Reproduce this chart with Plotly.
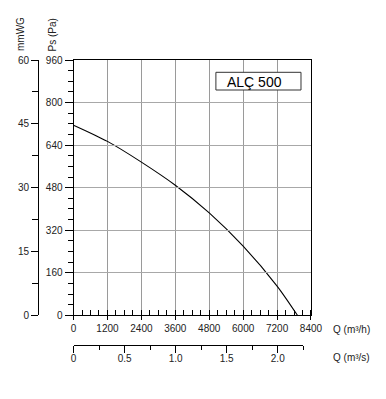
import plotly.graph_objects as go

# Data
flow_m3h = [0, 1200, 2400, 3600, 4800, 6000, 7200, 7920]
pressure_pa = [715, 654, 576, 489, 385, 260, 110, 0]

q_h_ticks = [0, 1200, 2400, 3600, 4800, 6000, 7200, 8400]
pa_ticks = [0, 160, 320, 480, 640, 800, 960]
mmwg_ticks = [0, 15, 30, 45, 60]
q_s_ticks = [0, 0.5, 1.0, 1.5, 2.0]
q_s_labels = ["0", "0.5", "1.0", "1.5", "2.0"]
q_s_minor = [0.25, 0.75, 1.25, 1.75, 2.25]
model_name = "ALÇ 500"

OFF = 8  # page body margin
W, H = 386 - OFF, 399 - OFF
ML, MT = 38 - OFF, 60 - OFF
MB = H - (345 - OFF)
MR = W - (310.7 - OFF)
PW = W - ML - MR
PH = H - MT - MB


def px_x(px):
    return (px - OFF - ML) / PW


def px_y(py):
    return (H - MB - (py - OFF)) / PH


x0 = px_x(73.5)
y0 = px_y(315.3)
font = "Liberation Sans, Arial, sans-serif"

fig = go.Figure()
fig.add_trace(go.Scatter(
    x=flow_m3h, y=pressure_pa, mode="lines",
    line=dict(color="black", width=1.1, shape="spline", smoothing=0.8),
    showlegend=False, hoverinfo="skip",
))
# invisible traces to activate extra axes
fig.add_trace(go.Scatter(x=[0], y=[0], yaxis="y2", mode="markers",
                         marker=dict(opacity=0), showlegend=False, hoverinfo="skip"))
fig.add_trace(go.Scatter(x=[0], y=[0], xaxis="x3", yaxis="y", mode="markers",
                         marker=dict(opacity=0), showlegend=False, hoverinfo="skip"))

fig.update_layout(
    width=W, height=H,
    margin=dict(l=ML, r=MR, t=MT, b=MB, autoexpand=False),
    paper_bgcolor="white", plot_bgcolor="rgba(0,0,0,0)",
    font=dict(family=font, size=10, color="#222"),
    xaxis=dict(
        domain=[x0, 1], range=[0, 8400], tickvals=q_h_ticks,
        showgrid=True, gridcolor="#9a9a9a", gridwidth=1,
        showline=True, linecolor="black", linewidth=1, mirror=True,
        ticks="outside", ticklen=4, tickcolor="black", tickwidth=1,
        minor=dict(dtick=300, tick0=0, ticks="inside", ticklen=5, tickcolor="black", showgrid=False),
        zeroline=False, anchor="y",
    ),
    yaxis=dict(
        domain=[y0, 1], range=[0, 960], tickvals=pa_ticks,
        showgrid=True, gridcolor="#a8a8a8", gridwidth=1,
        showline=True, linecolor="black", linewidth=1, mirror=True,
        ticks="outside", ticklen=8, tickcolor="black", tickwidth=1,
        minor=dict(dtick=40, tick0=0, ticks="outside", ticklen=5, tickcolor="black", showgrid=False),
        zeroline=False, anchor="x", ticklabelstandoff=0,
    ),
    yaxis2=dict(
        domain=[y0, 1], range=[0, 60], tickvals=mmwg_ticks,
        overlaying="y", anchor="free", position=0, side="left",
        showgrid=False, showline=True, linecolor="black", linewidth=1,
        ticks="outside", ticklen=7, tickcolor="black", tickwidth=1,
        minor=dict(dtick=7.5, tick0=0, ticks="outside", ticklen=6, tickcolor="black", showgrid=False),
        zeroline=False, ticklabelstandoff=0,
    ),
    xaxis3=dict(
        domain=[x0, px_x(303)], range=[0, 2.25],
        tickvals=q_s_ticks, ticktext=q_s_labels,
        anchor="free", position=0, side="bottom",
        showgrid=False, showline=True, linecolor="black", linewidth=1,
        ticks="outside", ticklen=7, tickcolor="black", tickwidth=1,
        minor=dict(tickvals=q_s_minor, ticks="outside", ticklen=4, tickcolor="black", showgrid=False),
        zeroline=False, ticklabelstandoff=-3,
    ),
    shapes=[
        dict(type="rect", xref="paper", yref="paper",
             x0=px_x(215.7), x1=px_x(300.7), y0=px_y(90), y1=px_y(72.3),
             line=dict(color="#333", width=1), fillcolor="white", layer="above"),
    ],
    annotations=[
        dict(text=model_name, xref="paper", yref="paper", x=px_x(225), y=px_y(81.5),
             xanchor="left", yanchor="middle", showarrow=False,
             font=dict(size=14, color="black", family=font)),
        dict(text="mmWG", xref="paper", yref="paper", x=px_x(21), y=px_y(34),
             textangle=-90, showarrow=False, xanchor="center", yanchor="middle",
             font=dict(size=10, color="#222")),
        dict(text="Ps (Pa)", xref="paper", yref="paper", x=px_x(52), y=px_y(35.5),
             textangle=-90, showarrow=False, xanchor="center", yanchor="middle",
             font=dict(size=10, color="#222")),
        dict(text="Q (m³/h)", xref="paper", yref="paper", x=px_x(331), y=px_y(329),
             showarrow=False, xanchor="left", yanchor="middle",
             font=dict(size=10, color="#222")),
        dict(text="Q (m³/s)", xref="paper", yref="paper", x=px_x(331), y=px_y(357.5),
             showarrow=False, xanchor="left", yanchor="middle",
             font=dict(size=10, color="#222")),
    ],
)

fig.write_html("out.html")
